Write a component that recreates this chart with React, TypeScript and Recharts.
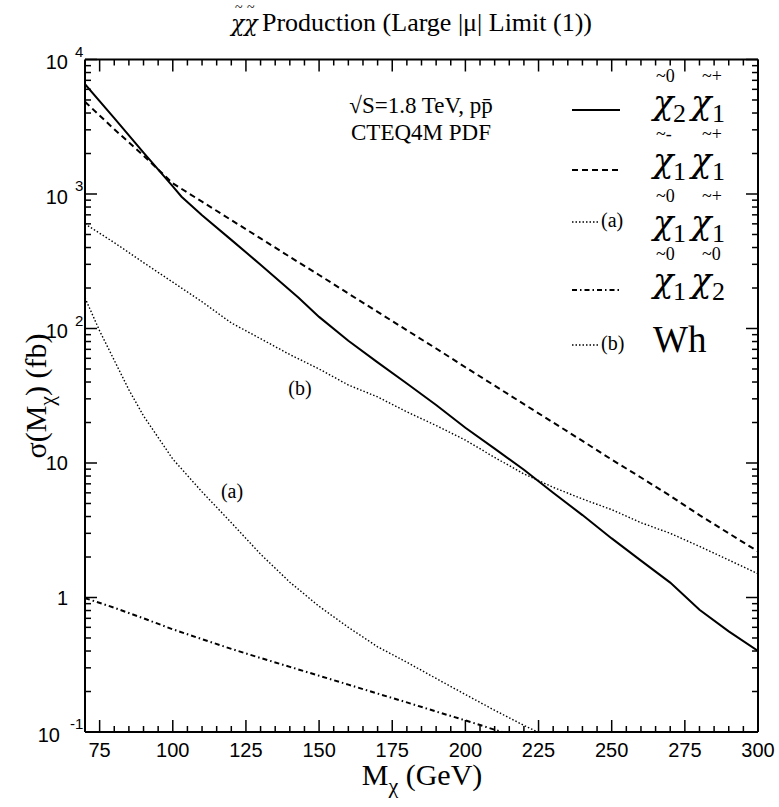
import React from 'react';
import { LineChart, Line, XAxis, YAxis } from 'recharts';

// ---- data ----
const massC2C1 = [70, 80, 90, 100, 103, 110, 120, 130, 143, 150, 160, 170, 180, 190, 200, 210, 220, 230, 240, 250, 260, 270, 280, 290, 300];
const sigmaC2C1 = [6550, 3660, 2030, 1140, 955, 695, 456, 298, 169, 122, 81, 56, 39, 27, 18.3, 12.8, 8.9, 6.0, 4.1, 2.75, 1.88, 1.29, 0.81, 0.56, 0.4];

const massC1C1 = [70, 80, 90, 100, 110, 120, 130, 140, 150, 160, 170, 180, 190, 200, 210, 220, 230, 240, 250, 260, 270, 280, 290, 300];
const sigmaC1C1 = [4850, 3030, 1930, 1200, 877, 640, 468, 341, 250, 182, 133, 97, 71, 51.5, 37.6, 27.4, 20, 14.6, 10.6, 7.8, 5.7, 4.1, 3.0, 2.2];

const massN1C1 = [70, 75, 80, 85, 90, 100, 110, 120, 130, 140, 150, 160, 170, 180, 190, 200, 210, 220, 230];
const sigmaN1C1 = [169, 96, 58, 35, 22.4, 10.7, 6.1, 3.6, 2.1, 1.3, 0.86, 0.6, 0.43, 0.33, 0.25, 0.19, 0.145, 0.112, 0.088];

const massN1N2 = [70, 80, 90, 100, 110, 120, 130, 140, 150, 160, 170, 180, 190, 200, 210, 220];
const sigmaN1N2 = [0.99, 0.84, 0.70, 0.58, 0.49, 0.415, 0.355, 0.305, 0.262, 0.225, 0.193, 0.166, 0.142, 0.122, 0.104, 0.089];

const massWh = [70, 80, 90, 100, 110, 120, 130, 140, 150, 160, 170, 180, 190, 200, 210, 220, 230, 240, 250, 260, 270, 280, 290, 300];
const sigmaWh = [600, 435, 309, 221, 158, 110, 84, 64, 50, 38, 31, 24, 19, 14.8, 11.0, 8.3, 6.6, 5.4, 4.5, 3.6, 3.0, 2.4, 1.9, 1.5];

const xMajorTicks = [75, 100, 125, 150, 175, 200, 225, 250, 275, 300];
const xMinorStep = 5;
const yDecades = [0.1, 1, 10, 100, 1000, 10000];

const titleText = 'Production (Large |μ| Limit (1))';
const infoLine1 = '√S=1.8 TeV, pp̄';
const infoLine2 = 'CTEQ4M PDF';

// ---- derived tables ----
const zip = (m: number[], v: number[]) => m.map((x, i) => ({ x, v: v[i] }));
const dataC2C1 = zip(massC2C1, sigmaC2C1);
const dataC1C1 = zip(massC1C1, sigmaC1C1);
const dataN1C1 = zip(massN1C1, sigmaN1C1);
const dataN1N2 = zip(massN1N2, sigmaN1N2);
const dataWh = zip(massWh, sigmaWh);

const xTicks: number[] = [];
for (let v = 75; v <= 300; v += xMinorStep) xTicks.push(v);
const yTicks: number[] = [];
yDecades.forEach((d, i) => {
  yTicks.push(d);
  if (i < yDecades.length - 1) for (let k = 2; k <= 9; k++) yTicks.push(+(d * k).toPrecision(3));
});

const SANS = "'Liberation Sans', Arial, sans-serif";
const SERIF = "'Liberation Serif', 'Times New Roman', serif";
const GREEK = "'DejaVu Serif', 'Liberation Serif', serif";

const isMajorX = (v: number) => xMajorTicks.includes(v);
const decadeOf = (v: number) => {
  const l = Math.log10(v);
  const e = Math.round(l);
  return Math.abs(l - e) < 1e-6 ? e : null;
};

const XTickBottom = (props: any) => {
  const { x, y, payload } = props;
  const major = isMajorX(payload.value);
  return (
    <g>
      <line x1={x} x2={x} y1={y} y2={y - (major ? 12 : 6)} stroke="#000" strokeWidth={1.5} />
      {major && (
        <text x={x} y={y + 25} textAnchor="middle" fontFamily={SANS} fontSize={20} fill="#000">
          {payload.value}
        </text>
      )}
    </g>
  );
};

const XTickTop = (props: any) => {
  const { x, y, payload } = props;
  const major = isMajorX(payload.value);
  return <line x1={x} x2={x} y1={y} y2={y + (major ? 12 : 6)} stroke="#000" strokeWidth={1.5} />;
};

const YTickLeft = (props: any) => {
  const { x, y, payload } = props;
  const e = decadeOf(payload.value);
  const major = e !== null;
  let label: React.ReactNode = null;
  if (e === 0 || e === 1) {
    label = (
      <text x={x - 17} y={y + 7} textAnchor="end" fontFamily={SANS} fontSize={20} fill="#000">
        {e === 0 ? '1' : '10'}
      </text>
    );
  } else if (e !== null) {
    const neg = e < 0;
    label = (
      <g>
        <text x={x - (neg ? 25 : 17)} y={y + 9.5} textAnchor="end" fontFamily={SANS} fontSize={20} fill="#000">10</text>
        <text x={x - (neg ? 15 : 10)} y={y - 3} textAnchor="start" fontFamily={SANS} fontSize={15} fill="#000">{String(e)}</text>
      </g>
    );
  }
  return (
    <g>
      <line x1={x} x2={x + (major ? 12 : 6)} y1={y} y2={y} stroke="#000" strokeWidth={1.5} />
      {label}
    </g>
  );
};

const YTickRight = (props: any) => {
  const { x, y, payload } = props;
  const major = decadeOf(payload.value) !== null;
  return <line x1={x} x2={x - (major ? 12 : 6)} y1={y} y2={y} stroke="#000" strokeWidth={1.5} />;
};

const axisLine = { stroke: '#000', strokeWidth: 2 };

const Chi = ({ x, y, subs, tildes }: { x: number; y: number; subs: [string, string]; tildes: [string, string] }) => (
  <g fill="#000">
    <text x={x + 3} y={y - 32} fontSize={18} fontFamily={SERIF}>{tildes[0]}</text>
    <text x={x + 49} y={y - 32} fontSize={18} fontFamily={SERIF}>{tildes[1]}</text>
    <text x={x} y={y} fontSize={34} fontFamily={GREEK} fontStyle="italic">χ</text>
    <text x={x + 20} y={y + 8} fontSize={26} fontFamily={SERIF}>{subs[0]}</text>
    <text x={x + 38} y={y} fontSize={34} fontFamily={GREEK} fontStyle="italic">χ</text>
    <text x={x + 59} y={y + 8} fontSize={26} fontFamily={SERIF}>{subs[1]}</text>
  </g>
);

export default function App() {
  const lx1 = 572;
  const lx2 = 620;
  return (
    <div style={{ position: 'absolute', left: 0, top: 0, width: 779, height: 807, background: '#fff' }}>
      <div style={{ position: 'absolute', left: 0, top: 0 }}>
        <LineChart width={779} height={807} margin={{ top: 39.5, right: 11, bottom: 15, left: 25 }}>
          <XAxis xAxisId="b" orientation="bottom" dataKey="x" type="number" domain={[70, 300]} allowDataOverflow
            ticks={xTicks} interval={0} height={60} tickSize={0} tickMargin={0} tickLine={false} axisLine={axisLine} tick={XTickBottom} />
          <XAxis xAxisId="t" orientation="top" dataKey="x" type="number" domain={[70, 300]} allowDataOverflow
            ticks={xTicks} interval={0} height={20} tickSize={0} tickMargin={0} tickLine={false} axisLine={axisLine} tick={XTickTop} />
          <YAxis yAxisId="l" orientation="left" type="number" scale="log" domain={[0.1, 10000]} allowDataOverflow
            ticks={yTicks} interval={0} width={60} tickSize={0} tickMargin={0} tickLine={false} axisLine={axisLine} tick={YTickLeft} />
          <YAxis yAxisId="r" orientation="right" type="number" scale="log" domain={[0.1, 10000]} allowDataOverflow
            ticks={yTicks} interval={0} width={10} tickSize={0} tickMargin={0} tickLine={false} axisLine={axisLine} tick={YTickRight} />
          <Line xAxisId="b" yAxisId="l" data={dataC2C1} dataKey="v" type="linear" stroke="#000" strokeWidth={2} dot={false} isAnimationActive={false} />
          <Line xAxisId="b" yAxisId="l" data={dataC1C1} dataKey="v" type="linear" stroke="#000" strokeWidth={2} strokeDasharray="6 4" dot={false} isAnimationActive={false} />
          <Line xAxisId="b" yAxisId="l" data={dataN1C1} dataKey="v" type="linear" stroke="#000" strokeWidth={1.4} strokeDasharray="1.5 2" dot={false} isAnimationActive={false} />
          <Line xAxisId="b" yAxisId="l" data={dataN1N2} dataKey="v" type="linear" stroke="#000" strokeWidth={2} strokeDasharray="5 3 1.5 3" dot={false} isAnimationActive={false} />
          <Line xAxisId="b" yAxisId="l" data={dataWh} dataKey="v" type="linear" stroke="#000" strokeWidth={1.4} strokeDasharray="1.5 2" dot={false} isAnimationActive={false} />
        </LineChart>
      </div>
      <svg width={779} height={807} style={{ position: 'absolute', left: 0, top: 0, pointerEvents: 'none' }}>
        <g fill="#000">
          <text x={231} y={31} fontFamily={GREEK} fontStyle="italic" fontSize={22}>χχ</text>
          <text x={235} y={12} fontFamily={SERIF} fontSize={14}>~</text>
          <text x={247} y={12} fontFamily={SERIF} fontSize={14}>~</text>
          <text x={262} y={31} fontFamily={SERIF} fontSize={26}>{titleText}</text>
        </g>
        <text x={421} y={113} textAnchor="middle" fontFamily={SERIF} fontSize={23} fill="#000">{infoLine1}</text>
        <text x={421} y={140} textAnchor="middle" fontFamily={SERIF} fontSize={23} fill="#000">{infoLine2}</text>
        <text x={422} y={785} textAnchor="middle" fontFamily={SERIF} fontSize={30} fill="#000">
          M<tspan fontSize={22} dy={8}>χ</tspan><tspan dy={-8}> (GeV)</tspan>
        </text>
        <text transform="translate(46,396) rotate(-90)" textAnchor="middle" fontFamily={SERIF} fontSize={30} fill="#000">
          σ(M<tspan fontSize={22} dy={8}>χ</tspan><tspan dy={-8}>) (fb)</tspan>
        </text>
        <text x={300} y={395} textAnchor="middle" fontFamily={SERIF} fontSize={20} fill="#000">(b)</text>
        <text x={232} y={498} textAnchor="middle" fontFamily={SERIF} fontSize={20} fill="#000">(a)</text>

        {/* legend */}
        <line x1={lx1} x2={lx2} y1={110} y2={110} stroke="#000" strokeWidth={2} />
        <Chi x={653} y={114} subs={['2', '1']} tildes={['~0', '~+']} />
        <line x1={lx1} x2={lx2} y1={170} y2={170} stroke="#000" strokeWidth={2} strokeDasharray="6 4" />
        <Chi x={653} y={172} subs={['1', '1']} tildes={['~-', '~+']} />
        <line x1={lx1} x2={600} y1={222} y2={222} stroke="#000" strokeWidth={1.4} strokeDasharray="1.5 2" />
        <text x={601} y={227} fontFamily={SERIF} fontSize={20} fill="#000">(a)</text>
        <Chi x={653} y={234} subs={['1', '1']} tildes={['~0', '~+']} />
        <line x1={lx1} x2={lx2} y1={290} y2={290} stroke="#000" strokeWidth={2} strokeDasharray="5 3 1.5 3" />
        <Chi x={653} y={292} subs={['1', '2']} tildes={['~0', '~0']} />
        <line x1={lx1} x2={600} y1={345} y2={345} stroke="#000" strokeWidth={1.4} strokeDasharray="1.5 2" />
        <text x={601} y={350} fontFamily={SERIF} fontSize={20} fill="#000">(b)</text>
        <text x={653} y={352} fontFamily={SERIF} fontSize={37} fill="#000">Wh</text>
      </svg>
    </div>
  );
}
